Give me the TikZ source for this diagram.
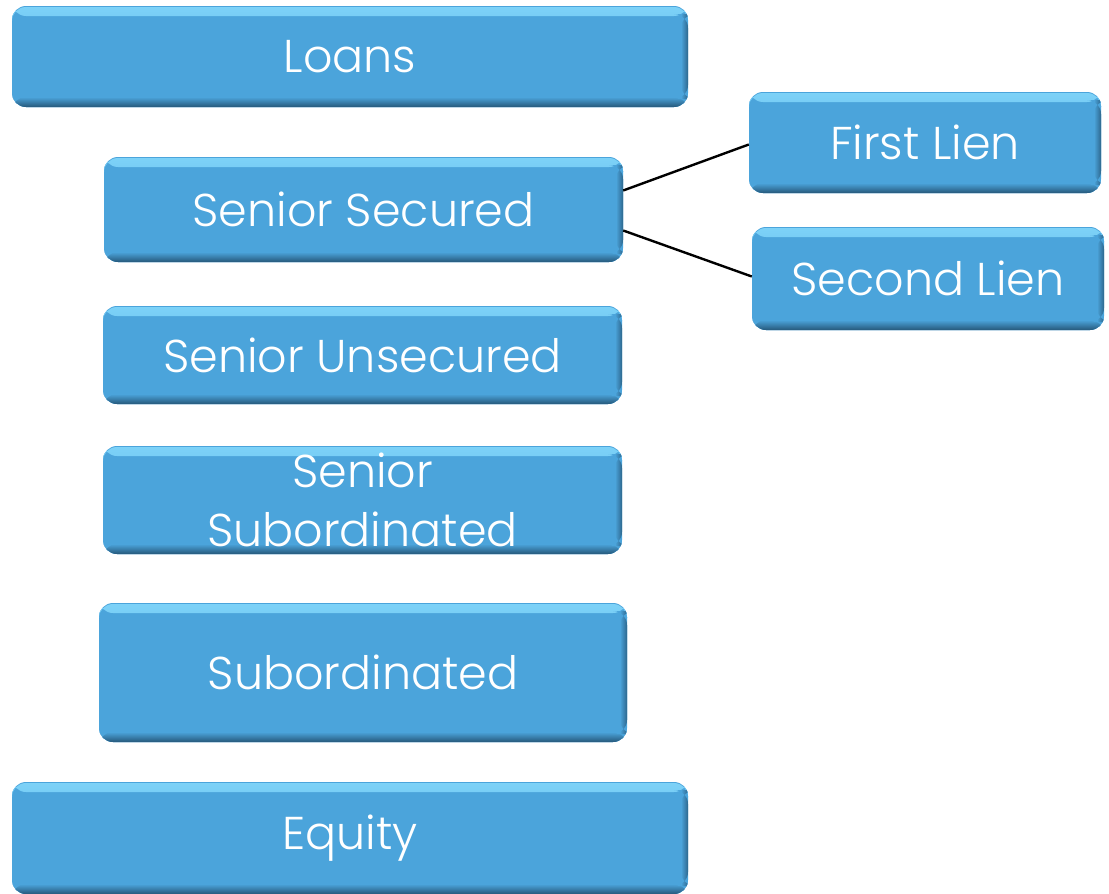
\documentclass[tikz,border=0pt]{standalone}
\usepackage{fontspec}
\setmainfont{Poppins}[UprightFont=* Light]
\begin{document}
\begin{tikzpicture}[x=1pt,y=-1pt]
\definecolor{boxblue}{RGB}{75,164,219}
\definecolor{boxlight}{RGB}{125,210,248}
\definecolor{boxdark}{RGB}{38,88,122}
\tikzset{
  tier/.style={
    rectangle, rounded corners=14pt, fill=boxblue, draw=none,
    text=white, font=\fontsize{46}{56}\selectfont, align=center,
    inner sep=0pt,
    path picture={
      % bevel: light rim on top, dark rim at bottom and right
      \fill[top color=boxlight, bottom color=boxblue]
        ([yshift=-1pt]path picture bounding box.north west) rectangle
        ([yshift=-10pt]path picture bounding box.north east);
      \fill[top color=boxblue, bottom color=boxdark]
        ([yshift=10pt]path picture bounding box.south west) rectangle
        (path picture bounding box.south east);
      \fill[left color=boxblue, right color=boxdark, opacity=0.8]
        ([xshift=-7pt,yshift=-8pt]path picture bounding box.north east) rectangle
        ([yshift=8pt]path picture bounding box.south east);
    }
  },
  link/.style={draw=black, line width=2.4pt}
}
\useasboundingbox (0,0) rectangle (1109,894);

\node[tier, minimum width=676pt, minimum height=101pt] (loans) at (350,56.5) {Loans};
\node[tier, minimum width=519pt, minimum height=105pt] (ssec) at (363.5,209.5) {Senior Secured};
\node[tier, minimum width=352pt, minimum height=101pt] (first) at (925,142.5) {First Lien};
\node[tier, minimum width=352pt, minimum height=103pt] (second) at (928,278.5) {Second Lien};
\node[tier, minimum width=519pt, minimum height=98pt] (suns) at (362.5,355) {Senior Unsecured};
\node[tier, minimum width=519pt, minimum height=108pt, text depth=-2pt] (ssub) at (362.5,500) {Senior\\[3pt]Subordinated};
\node[tier, minimum width=528pt, minimum height=139pt] (sub) at (363,672.5) {Subordinated};
\node[tier, minimum width=676pt, minimum height=112pt] (equity) at (350,838) {Equity};

\draw[link] ([yshift=19pt]ssec.east) -- ([yshift=-2pt]first.west);
\draw[link] ([yshift=-21pt]ssec.east) -- ([yshift=2pt]second.west);
\end{tikzpicture}
\end{document}
